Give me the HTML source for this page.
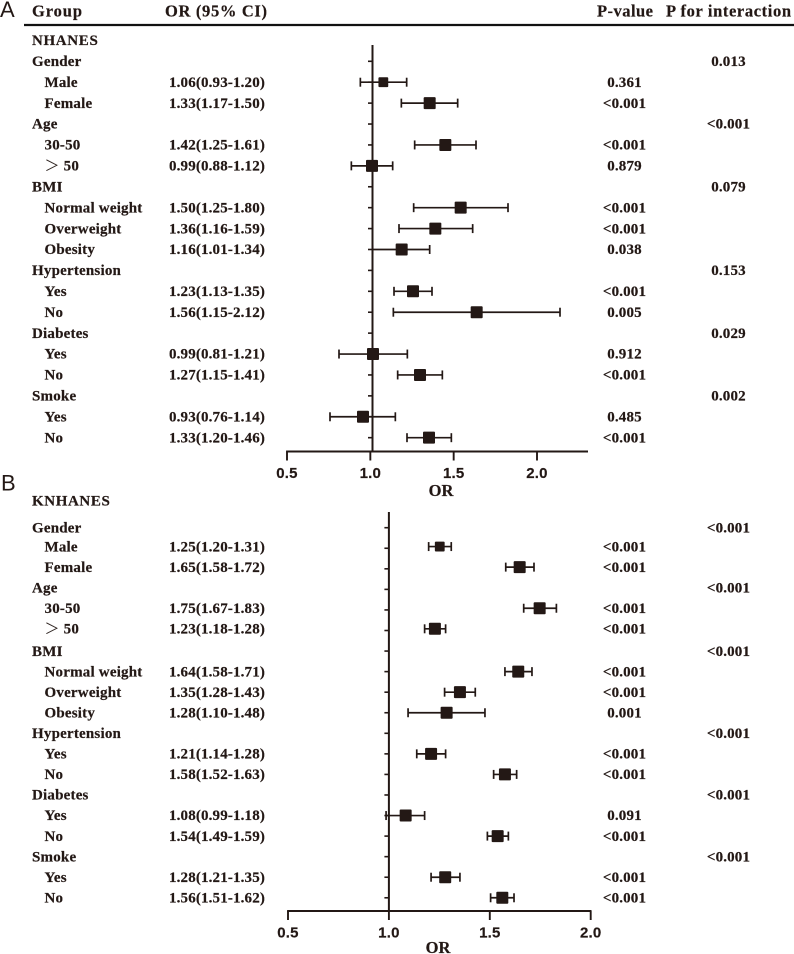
<!DOCTYPE html>
<html lang="en">
<head>
<meta charset="utf-8">
<title>Forest plots NHANES and KNHANES</title>
<style>
html,body{margin:0;padding:0;background:#fff;}
svg{display:block;}
text{fill:#231815;stroke:#231815;stroke-width:.2px;font-family:"Liberation Serif","Noto Serif CJK SC",serif;font-weight:bold;}
.hdr{font-size:16.5px;}
.lab{font-size:15px;letter-spacing:.2px;}
.num{font-size:15px;letter-spacing:.15px;}
.tick{font-family:"Liberation Sans",sans-serif;font-size:15px;letter-spacing:.2px;}
.ttl{font-size:16.5px;}
.pan{font-family:"Liberation Sans",sans-serif;font-weight:normal;font-size:22px;stroke-width:0;}
</style>
</head>
<body>
<svg id="fig" xmlns="http://www.w3.org/2000/svg" width="794" height="954" viewBox="0 0 794 954">
  <text class="pan" x="0" y="17">A</text>
  <text class="pan" x="1" y="490.5">B</text>
  <text class="hdr" x="32" y="16.5" textLength="50">Group</text>
  <text class="hdr" x="165" y="16.5" textLength="102">OR (95% CI)</text>
  <text class="hdr" x="597" y="16.5" textLength="56">P-value</text>
  <text class="hdr" x="666" y="16.5" textLength="125">P for interaction</text>
  <line x1="24" y1="25" x2="794" y2="25" stroke="#111" stroke-width="2.2"/>
  <text class="lab" x="32" y="45" textLength="66">NHANES</text>
  <text class="lab" x="32" y="505.5" textLength="78">KNHANES</text>
</svg>
<script>
const rowLabels = ["Gender","Male","Female","Age","30-50","＞ 50","BMI","Normal weight","Overweight","Obesity","Hypertension","Yes","No","Diabetes","Yes","No","Smoke","Yes","No"];
const axisTicks = [0.5, 1.0, 1.5, 2.0];
const tickLabels = ["0.5", "1.0", "1.5", "2.0"];

const aText = ["", "1.06(0.93-1.20)", "1.33(1.17-1.50)", "", "1.42(1.25-1.61)", "0.99(0.88-1.12)", "", "1.50(1.25-1.80)", "1.36(1.16-1.59)", "1.16(1.01-1.34)", "", "1.23(1.13-1.35)", "1.56(1.15-2.12)", "", "0.99(0.81-1.21)", "1.27(1.15-1.41)", "", "0.93(0.76-1.14)", "1.33(1.20-1.46)"];
const aPValues = ["", "0.361", "<0.001", "", "<0.001", "0.879", "", "<0.001", "<0.001", "0.038", "", "<0.001", "0.005", "", "0.912", "<0.001", "", "0.485", "<0.001"];
const aInteraction = ["0.013", "", "", "<0.001", "", "", "0.079", "", "", "", "0.153", "", "", "0.029", "", "", "0.002", "", ""];
const aEstimate = [null, 1.078, 1.356, null, 1.45, 1.01, null, 1.542, 1.39, 1.188, null, 1.256, 1.638, null, 1.016, 1.298, null, 0.956, 1.352];
const aLower = [null, 0.94, 1.186, null, 1.266, 0.886, null, 1.26, 1.172, 1.014, null, 1.142, 1.138, null, 0.812, 1.164, null, 0.758, 1.22];
const aUpper = [null, 1.218, 1.524, null, 1.634, 1.134, null, 1.826, 1.614, 1.356, null, 1.37, 2.138, null, 1.222, 1.432, null, 1.15, 1.486];

const bText = ["", "1.25(1.20-1.31)", "1.65(1.58-1.72)", "", "1.75(1.67-1.83)", "1.23(1.18-1.28)", "", "1.64(1.58-1.71)", "1.35(1.28-1.43)", "1.28(1.10-1.48)", "", "1.21(1.14-1.28)", "1.58(1.52-1.63)", "", "1.08(0.99-1.18)", "1.54(1.49-1.59)", "", "1.28(1.21-1.35)", "1.56(1.51-1.62)"];
const bPValues = ["", "<0.001", "<0.001", "", "<0.001", "<0.001", "", "<0.001", "<0.001", "0.001", "", "<0.001", "<0.001", "", "0.091", "<0.001", "", "<0.001", "<0.001"];
const bInteraction = ["<0.001", "", "", "<0.001", "", "", "<0.001", "", "", "", "<0.001", "", "", "<0.001", "", "", "<0.001", "", ""];
const bEstimate = [null, 1.252, 1.648, null, 1.747, 1.228, null, 1.641, 1.352, 1.286, null, 1.209, 1.575, null, 1.083, 1.539, null, 1.279, 1.562];
const bLower = [null, 1.197, 1.579, null, 1.668, 1.177, null, 1.575, 1.276, 1.095, null, 1.138, 1.519, null, 0.986, 1.488, null, 1.209, 1.504];
const bUpper = [null, 1.309, 1.719, null, 1.83, 1.281, null, 1.709, 1.428, 1.476, null, 1.281, 1.633, null, 1.177, 1.592, null, 1.352, 1.62];

const NS = "http://www.w3.org/2000/svg";
const INK = "#231815";
const svg = document.getElementById("fig");

function line(x1, y1, x2, y2, w) {
  const el = document.createElementNS(NS, "line");
  el.setAttribute("x1", x1);
  el.setAttribute("y1", y1);
  el.setAttribute("x2", x2);
  el.setAttribute("y2", y2);
  el.setAttribute("stroke", INK);
  el.setAttribute("stroke-width", w);
  svg.appendChild(el);
  return el;
}
function text(str, x, y, cls, anchor) {
  const el = document.createElementNS(NS, "text");
  el.setAttribute("x", x);
  el.setAttribute("y", y);
  el.setAttribute("class", cls);
  if (anchor) el.setAttribute("text-anchor", anchor);
  el.textContent = str;
  svg.appendChild(el);
  return el;
}

function drawPanel(p) {
  const xOf = v => p.x0 + (v - 0.5) * p.perUnit;
  const yOf = i => p.rowTop + i * p.rowStep;
  const shiftOf = i => (i > 0 && i < 6 ? p.earlyShift : 0);

  const axis = line(xOf(0.5) - 0.9, p.axisY, p.axisEnd, p.axisY, 1.9);
  
  

  axisTicks.forEach((v, k) => {
    const tk = line(xOf(v), p.axisY, xOf(v), p.axisY + 9, 1.9);
    
    
    const tl = text(tickLabels[k], xOf(v), p.axisY + 26.6, "tick", "middle");
    
    
  });

  const ref = line(xOf(p.refValue), p.refTop, xOf(p.refValue), p.axisY, 2);
  
  

  const title = text("OR", p.titleX, p.titleY, "ttl", "middle");
  
  

  rowLabels.forEach((label, i) => {
    const y = yOf(i);
    const ty = y + shiftOf(i) + 4.7;
    const isHead = p.estimate[i] === null;

    const rt = line(xOf(p.refValue) - 4.5, y, xOf(p.refValue), y, 1.6);
    
    

    const lb = text(label, isHead ? 32 : 44.5, ty, "lab");
    
    

    if (p.text[i]) {
      const ci = text(p.text[i], 169, ty, "num");
      
      
    }
    if (p.pv[i]) {
      const pv = text(p.pv[i], 624.5, ty, "num", "middle");
      
      
    }
    if (p.pi[i]) {
      const pi = text(p.pi[i], 728.5, ty, "num", "middle");
      
      
    }

    if (!isHead) {
      const my = y + shiftOf(i);
      const xl = xOf(p.lower[i]);
      const xh = xOf(p.upper[i]);
      const xm = xOf(p.estimate[i]);
      const ci = line(xl, my, xh, my, 1.7);
      
      
      const c1 = line(xl, my - 4.5, xl, my + 4.5, 1.7);
      
      
      const c2 = line(xh, my - 4.5, xh, my + 4.5, 1.7);
      
      
      const s = i === 1 ? 9.8 : 12;
      const m = document.createElementNS(NS, "rect");
      m.setAttribute("x", xm - s / 2);
      m.setAttribute("y", my - s / 2);
      m.setAttribute("width", s);
      m.setAttribute("height", s);
      m.setAttribute("rx", 1);
      m.setAttribute("fill", INK);
      
      
      svg.appendChild(m);
    }
  });
}

drawPanel({id: "nhanes", x0: 287, perUnit: 166.67, axisEnd: 588, axisY: 451.5, refValue: 1.013, refTop: 45,
  rowTop: 61.3, rowStep: 20.91, earlyShift: 0, titleX: 441, titleY: 496,
  text: aText, pv: aPValues, pi: aInteraction, estimate: aEstimate, lower: aLower, upper: aUpper});
drawPanel({id: "knhanes", x0: 288, perUnit: 201.8, axisEnd: 591.5, axisY: 911, refValue: 1.0, refTop: 512,
  rowTop: 527.7, rowStep: 20.56, earlyShift: -1.7, titleX: 438, titleY: 953,
  text: bText, pv: bPValues, pi: bInteraction, estimate: bEstimate, lower: bLower, upper: bUpper});
</script>
</body>
</html>
